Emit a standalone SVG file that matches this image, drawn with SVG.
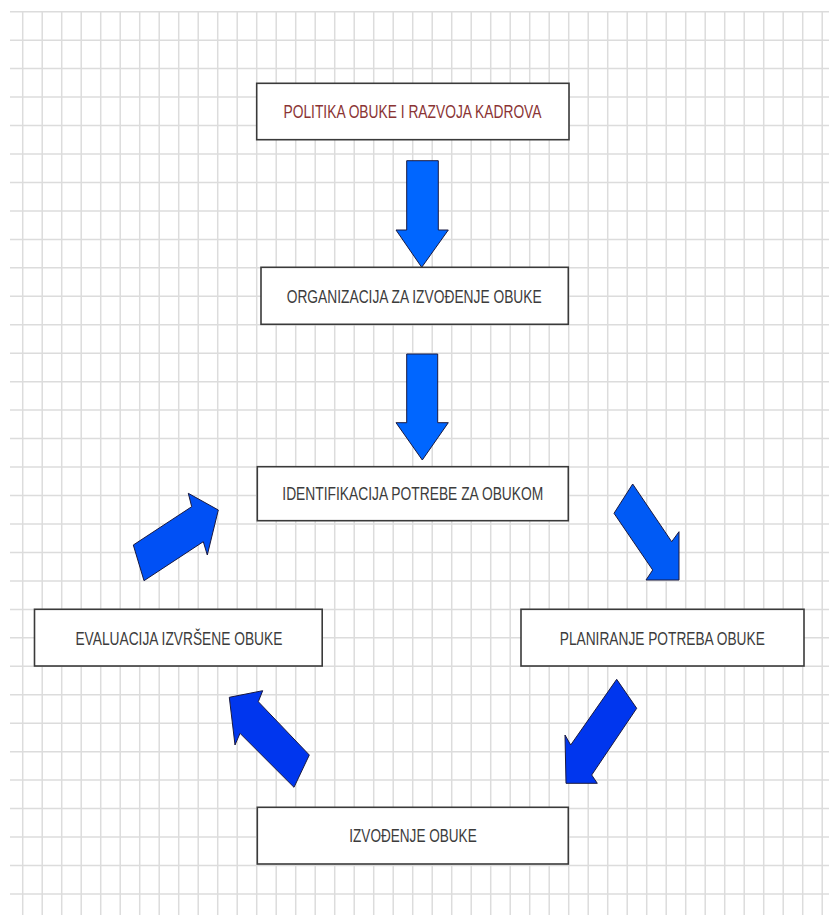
<svg xmlns="http://www.w3.org/2000/svg" width="829" height="915" viewBox="0 0 829 915">
<defs>
<style>
.grid line{stroke:#dcdcdc;stroke-width:1.5}
.box{fill:#ffffff;stroke:#3a3a3a;stroke-width:1.6}
.lbl{font-family:"Liberation Sans",Arial,sans-serif;font-size:17.5px;fill:#3c3c3c;text-anchor:middle}
.red{fill:#8a3434}
.arr{stroke:#1a1a40;stroke-width:1;stroke-linejoin:miter}
</style>
</defs>
<rect width="829" height="915" fill="#ffffff"/>
<g class="grid" id="grid">
<line x1="10" y1="11.7" x2="829" y2="11.7"/>
<line x1="10" y1="40.2" x2="829" y2="40.2"/>
<line x1="10" y1="68.6" x2="829" y2="68.6"/>
<line x1="10" y1="97.1" x2="829" y2="97.1"/>
<line x1="10" y1="125.5" x2="829" y2="125.5"/>
<line x1="10" y1="154" x2="829" y2="154"/>
<line x1="10" y1="182.5" x2="829" y2="182.5"/>
<line x1="10" y1="210.9" x2="829" y2="210.9"/>
<line x1="10" y1="239.4" x2="829" y2="239.4"/>
<line x1="10" y1="267.8" x2="829" y2="267.8"/>
<line x1="10" y1="296.3" x2="829" y2="296.3"/>
<line x1="10" y1="324.8" x2="829" y2="324.8"/>
<line x1="10" y1="353.2" x2="829" y2="353.2"/>
<line x1="10" y1="381.7" x2="829" y2="381.7"/>
<line x1="10" y1="410.1" x2="829" y2="410.1"/>
<line x1="10" y1="438.6" x2="829" y2="438.6"/>
<line x1="10" y1="467.1" x2="829" y2="467.1"/>
<line x1="10" y1="495.5" x2="829" y2="495.5"/>
<line x1="10" y1="524" x2="829" y2="524"/>
<line x1="10" y1="552.4" x2="829" y2="552.4"/>
<line x1="10" y1="580.9" x2="829" y2="580.9"/>
<line x1="10" y1="609.4" x2="829" y2="609.4"/>
<line x1="10" y1="637.8" x2="829" y2="637.8"/>
<line x1="10" y1="666.3" x2="829" y2="666.3"/>
<line x1="10" y1="694.7" x2="829" y2="694.7"/>
<line x1="10" y1="723.2" x2="829" y2="723.2"/>
<line x1="10" y1="751.7" x2="829" y2="751.7"/>
<line x1="10" y1="780.1" x2="829" y2="780.1"/>
<line x1="10" y1="808.6" x2="829" y2="808.6"/>
<line x1="10" y1="837" x2="829" y2="837"/>
<line x1="10" y1="865.5" x2="829" y2="865.5"/>
<line x1="10" y1="894" x2="829" y2="894"/>
<line x1="22.7" y1="11.7" x2="22.7" y2="915"/>
<line x1="42.2" y1="11.7" x2="42.2" y2="915"/>
<line x1="61.7" y1="11.7" x2="61.7" y2="915"/>
<line x1="81.2" y1="11.7" x2="81.2" y2="915"/>
<line x1="100.7" y1="11.7" x2="100.7" y2="915"/>
<line x1="120.2" y1="11.7" x2="120.2" y2="915"/>
<line x1="139.7" y1="11.7" x2="139.7" y2="915"/>
<line x1="159.2" y1="11.7" x2="159.2" y2="915"/>
<line x1="178.7" y1="11.7" x2="178.7" y2="915"/>
<line x1="198.2" y1="11.7" x2="198.2" y2="915"/>
<line x1="217.7" y1="11.7" x2="217.7" y2="915"/>
<line x1="237.2" y1="11.7" x2="237.2" y2="915"/>
<line x1="256.7" y1="11.7" x2="256.7" y2="915"/>
<line x1="276.2" y1="11.7" x2="276.2" y2="915"/>
<line x1="295.7" y1="11.7" x2="295.7" y2="915"/>
<line x1="315.2" y1="11.7" x2="315.2" y2="915"/>
<line x1="334.7" y1="11.7" x2="334.7" y2="915"/>
<line x1="354.2" y1="11.7" x2="354.2" y2="915"/>
<line x1="373.7" y1="11.7" x2="373.7" y2="915"/>
<line x1="393.2" y1="11.7" x2="393.2" y2="915"/>
<line x1="412.7" y1="11.7" x2="412.7" y2="915"/>
<line x1="432.2" y1="11.7" x2="432.2" y2="915"/>
<line x1="451.7" y1="11.7" x2="451.7" y2="915"/>
<line x1="471.2" y1="11.7" x2="471.2" y2="915"/>
<line x1="490.7" y1="11.7" x2="490.7" y2="915"/>
<line x1="510.2" y1="11.7" x2="510.2" y2="915"/>
<line x1="529.7" y1="11.7" x2="529.7" y2="915"/>
<line x1="549.2" y1="11.7" x2="549.2" y2="915"/>
<line x1="568.7" y1="11.7" x2="568.7" y2="915"/>
<line x1="588.2" y1="11.7" x2="588.2" y2="915"/>
<line x1="607.7" y1="11.7" x2="607.7" y2="915"/>
<line x1="627.2" y1="11.7" x2="627.2" y2="915"/>
<line x1="646.7" y1="11.7" x2="646.7" y2="915"/>
<line x1="666.2" y1="11.7" x2="666.2" y2="915"/>
<line x1="685.7" y1="11.7" x2="685.7" y2="915"/>
<line x1="705.2" y1="11.7" x2="705.2" y2="915"/>
<line x1="724.7" y1="11.7" x2="724.7" y2="915"/>
<line x1="744.2" y1="11.7" x2="744.2" y2="915"/>
<line x1="763.7" y1="11.7" x2="763.7" y2="915"/>
<line x1="783.2" y1="11.7" x2="783.2" y2="915"/>
<line x1="802.7" y1="11.7" x2="802.7" y2="915"/>
<line x1="822.2" y1="11.7" x2="822.2" y2="915"/>
</g>
<g id="connectors">
<polygon class="arr" fill="#0066ff" points="406.7,160.7 438.3,160.7 438.3,230 448.3,230 421.7,267.3 396,230 406.7,230"/>
<polygon class="arr" fill="#0066ff" points="406.7,354 437.7,354 437.7,422.7 448.3,422.7 422.3,460 396,422.7 406.7,422.7"/>
<polygon class="arr" fill="#005af5" points="632.7,484 614,513.3 652.7,570 646,580 679,580 679,531.7 671.7,541.7"/>
<polygon class="arr" fill="#0050f5" points="144,580.7 133.3,545 191.7,506.7 188.3,493.3 218.3,510 207.3,555 203.3,541.7"/>
<polygon class="arr" fill="#0036ee" points="616.7,679.3 636.7,708.3 591.7,775 597.3,783.3 566,783.3 565,735 570.7,745"/>
<polygon class="arr" fill="#0036ee" points="294,787.3 309.3,755 258.3,701.7 262.7,690.7 229.3,697.3 235,745 240,733.3"/>
</g>
<g id="politika">
<rect class="box" x="256.7" y="83.3" width="312.3" height="56.4"/>
<text class="lbl red" x="412.5" y="118" textLength="258" lengthAdjust="spacingAndGlyphs">POLITIKA OBUKE I RAZVOJA KADROVA</text>
</g>
<g id="organizacija">
<rect class="box" x="261" y="267.3" width="307.3" height="57"/>
<text class="lbl" x="414.2" y="303" textLength="255" lengthAdjust="spacingAndGlyphs">ORGANIZACIJA ZA IZVOĐENJE OBUKE</text>
</g>
<g id="identifikacija">
<rect class="box" x="257.3" y="466.7" width="311" height="54"/>
<text class="lbl" x="412.8" y="499.8" textLength="261" lengthAdjust="spacingAndGlyphs">IDENTIFIKACIJA POTREBE ZA OBUKOM</text>
</g>
<g id="evaluacija">
<rect class="box" x="34.5" y="609.3" width="287.7" height="56.7"/>
<text class="lbl" x="178.9" y="644.8" textLength="207" lengthAdjust="spacingAndGlyphs">EVALUACIJA IZVRŠENE OBUKE</text>
</g>
<g id="planiranje">
<rect class="box" x="521" y="609.3" width="283" height="56.7"/>
<text class="lbl" x="662.3" y="644.8" textLength="205" lengthAdjust="spacingAndGlyphs">PLANIRANJE POTREBA OBUKE</text>
</g>
<g id="izvodjenje">
<rect class="box" x="257.3" y="807.3" width="311" height="56.7"/>
<text class="lbl" x="413" y="841.5" textLength="127.4" lengthAdjust="spacingAndGlyphs">IZVOĐENJE OBUKE</text>
</g>
</svg>
